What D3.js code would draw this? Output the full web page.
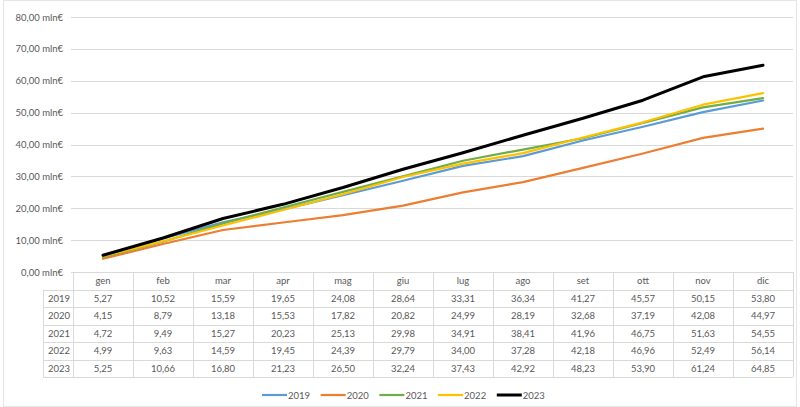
<!DOCTYPE html>
<meta charset="utf-8">
<script src="https://d3js.org/d3.v7.min.js"></script>
<style>
  body { margin: 0; background: #fff; }
  text { font-family: Lato, "Open Sans", sans-serif; fill: #595959; }
</style>
<div id="chart"></div>
<script>
    // data
    const months = ["gen", "feb", "mar", "apr", "mag", "giu", "lug", "ago", "set", "ott", "nov", "dic"];
    const years = ["2019", "2020", "2021", "2022", "2023"];
    const v2019 = [5.27, 10.52, 15.59, 19.65, 24.08, 28.64, 33.31, 36.34, 41.27, 45.57, 50.15, 53.80];
    const v2020 = [4.15, 8.79, 13.18, 15.53, 17.82, 20.82, 24.99, 28.19, 32.68, 37.19, 42.08, 44.97];
    const v2021 = [4.72, 9.49, 15.27, 20.23, 25.13, 29.98, 34.91, 38.41, 41.96, 46.75, 51.63, 54.55];
    const v2022 = [4.99, 9.63, 14.59, 19.45, 24.39, 29.79, 34.00, 37.28, 42.18, 46.96, 52.49, 56.14];
    const v2023 = [5.25, 10.66, 16.80, 21.23, 26.50, 32.24, 37.43, 42.92, 48.23, 53.90, 61.24, 64.85];
    const yTicks = [0, 10, 20, 30, 40, 50, 60, 70, 80];

    const series = [
        { name: years[0], values: v2019, color: "#5b9bd5", width: 2.2 },
        { name: years[1], values: v2020, color: "#ed7d31", width: 2.2 },
        { name: years[2], values: v2021, color: "#70ad47", width: 2.2 },
        { name: years[3], values: v2022, color: "#ffc000", width: 2.2 },
        { name: years[4], values: v2023, color: "#000000", width: 3 }
    ];

    const width = 800, height = 407;
    const it = d3.formatLocale({ decimal: ",", thousands: ".", grouping: [3], currency: ["", "€"] });
    const fmt = it.format(".2f");

    const svg = d3.select("#chart")
        .append("svg")
        .attr("width", width)
        .attr("height", height);

    // faint outer border
    svg.append("rect")
        .attr("x", 3.5).attr("y", 0.5)
        .attr("width", width - 7).attr("height", height - 1)
        .attr("fill", "none").attr("stroke", "#e6e6e6");

    const x = d3.scaleBand()
        .domain(months)
        .range([73, 793]);

    const y = d3.scaleLinear()
        .domain([0, 80])
        .range([272, 17]);

    // gridlines
    svg.append("g")
        .selectAll("line")
        .data(yTicks)
        .join("line")
        .attr("x1", 71).attr("x2", 793)
        .attr("y1", d => Math.round(y(d)) + 0.5)
        .attr("y2", d => Math.round(y(d)) + 0.5)
        .attr("stroke", "#d9d9d9");

    // y labels
    svg.append("g")
        .selectAll("text")
        .data(yTicks)
        .join("text")
        .attr("x", 63)
        .attr("y", d => y(d) + 3.5)
        .attr("text-anchor", "end")
        .style("font-size", "9.5px")
        .text(d => fmt(d) + " mln€");

    // lines
    const line = d3.line()
        .x((d, i) => x(months[i]) + x.bandwidth() / 2)
        .y(d => y(d));

    svg.append("g")
        .selectAll("path")
        .data(series)
        .join("path")
        .attr("d", d => line(d.values))
        .attr("fill", "none")
        .attr("stroke", d => d.color)
        .attr("stroke-width", d => d.width)
        .attr("stroke-linejoin", "round")
        .attr("stroke-linecap", "round");

    // data table
    const rowH = 17.5, tableTop = 272;
    const table = svg.append("g");
    const border = "#d9d9d9";

    // header cells
    table.selectAll(".hd")
        .data(months)
        .join("text")
        .attr("class", "hd")
        .attr("x", d => x(d) + x.bandwidth() / 2)
        .attr("y", tableTop + rowH / 2 + 3.5)
        .attr("text-anchor", "middle")
        .style("font-size", "9.5px")
        .text(d => d);

    // horizontal borders
    table.selectAll(".hl")
        .data(d3.range(7))
        .join("line")
        .attr("x1", i => i === 0 ? 73 : 43)
        .attr("x2", 793)
        .attr("y1", i => Math.round(tableTop + i * rowH) + 0.5)
        .attr("y2", i => Math.round(tableTop + i * rowH) + 0.5)
        .attr("stroke", border);

    // vertical borders
    table.selectAll(".vl")
        .data(d3.range(13))
        .join("line")
        .attr("x1", i => 73 + i * x.bandwidth() + 0.5)
        .attr("x2", i => 73 + i * x.bandwidth() + 0.5)
        .attr("y1", tableTop)
        .attr("y2", tableTop + 6 * rowH)
        .attr("stroke", border);
    table.append("line")
        .attr("x1", 43.5).attr("x2", 43.5)
        .attr("y1", tableTop + rowH).attr("y2", tableTop + 6 * rowH)
        .attr("stroke", border);

    // rows
    series.forEach((s, r) => {
        const cy = tableTop + (r + 1) * rowH + rowH / 2 + 3.5;
        table.append("text")
            .attr("x", 59)
            .attr("y", cy)
            .attr("text-anchor", "middle")
            .style("font-size", "9.5px")
            .text(s.name);
        table.append("g")
            .selectAll("text")
            .data(s.values)
            .join("text")
            .attr("x", (d, i) => x(months[i]) + x.bandwidth() / 2)
            .attr("y", cy)
            .attr("text-anchor", "middle")
            .style("font-size", "9.5px")
            .text(d => fmt(d));
    });

    // legend
    const legend = svg.append("g")
        .selectAll("g")
        .data(series)
        .join("g")
        .attr("transform", (d, i) => `translate(${262 + i * 58.7}, 395)`);
    legend.append("line")
        .attr("x1", 0).attr("x2", 25)
        .attr("stroke", d => d.color)
        .attr("stroke-width", d => d.width);
    legend.append("text")
        .attr("x", 26)
        .attr("y", 3.5)
        .style("font-size", "9.5px")
        .text(d => d.name);
</script>
